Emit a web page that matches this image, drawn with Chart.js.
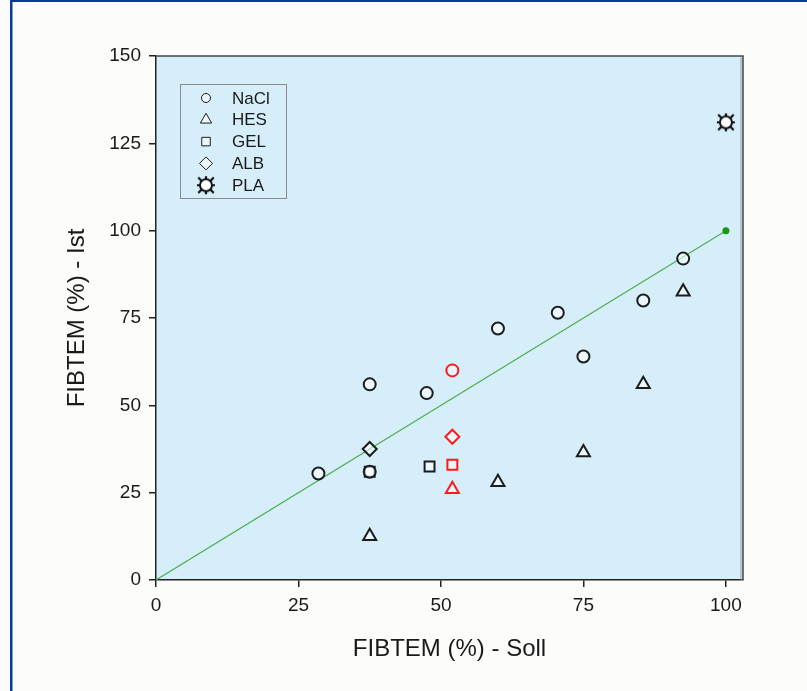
<!DOCTYPE html>
<html><head><meta charset="utf-8">
<script src="https://cdn.jsdelivr.net/npm/chart.js@4.4.0/dist/chart.umd.min.js"></script>
<style>html,body{margin:0;padding:0;background:#fcfcfa;overflow:hidden}canvas{display:block}</style>
</head><body>
<canvas id="c" width="807" height="691"></canvas>
<script>
// ---- data ----
const naclSoll = [28.5, 37.5, 37.5, 47.5, 60, 70.5, 75, 85.5, 92.5];
const naclIst  = [30.5, 31, 56, 53.5, 72, 76.5, 64, 80, 92];
const hesSoll  = [37.5, 60, 75, 85.5, 92.5];
const hesIst   = [12.5, 28, 36.5, 56, 82.5];
const gelSoll  = [37.5, 48];
const gelIst   = [31, 32.5];
const albSoll  = [37.5];
const albIst   = [37.5];
const plaSoll  = [100];
const plaIst   = [131];
// highlighted (red) points
const naclRedSoll = [52]; const naclRedIst = [60];
const hesRedSoll  = [52]; const hesRedIst  = [26];
const gelRedSoll  = [52]; const gelRedIst  = [33];
const albRedSoll  = [52]; const albRedIst  = [41];
// identity line
const refSoll = [0, 100];
const refIst  = [0, 100];
const xTicks = [0, 25, 50, 75, 100];
const yTicks = [0, 25, 50, 75, 100, 125, 150];
const legendLabels = ['NaCl', 'HES', 'GEL', 'ALB', 'PLA'];

const pts = (xs, ys) => xs.map((x, i) => ({x, y: ys[i]}));

// PLA symbol
function plaSymbol(){
  const c = document.createElement('canvas'); c.width = 26; c.height = 24;
  const g = c.getContext('2d');
  const cx = 13, cy = 12;
  g.strokeStyle = '#111'; g.lineWidth = 2.2;
  const rays = [[45,11],[135,11],[225,11],[315,11],[0,9],[90,9],[180,9],[270,9]];
  g.beginPath();
  rays.forEach(([a, r]) => {
    const t = a*Math.PI/180;
    g.moveTo(cx + Math.cos(t)*4, cy + Math.sin(t)*4);
    g.lineTo(cx + Math.cos(t)*r, cy + Math.sin(t)*r);
  });
  g.stroke();
  g.beginPath(); g.arc(cx, cy, 6, 0, Math.PI*2);
  g.fillStyle = '#ffffff'; g.fill(); g.lineWidth = 2; g.stroke();
  return c;
}
const plaImg = plaSymbol();

const BLACK = '#1c1c1c', RED = '#ff1a1a', FILL = 'rgba(255,255,255,0.55)';
const mk = (label, data, style, color, r, bw) => ({
  type: 'scatter', label, data, pointStyle: style,
  pointRadius: r, pointHoverRadius: r, borderColor: color, backgroundColor: FILL,
  pointBorderWidth: bw, borderWidth: bw, showLine: false
});

const datasets = [
  mk('PLA', pts(plaSoll, plaIst), plaImg, BLACK, 12, 1.5),
  mk('NaCl', pts(naclSoll, naclIst), 'circle', BLACK, 6, 2),
  mk('HES', pts(hesSoll, hesIst), 'triangle', BLACK, 7.5, 2),
  mk('GEL', pts(gelSoll, gelIst), 'rect', BLACK, 7, 2),
  mk('ALB', pts(albSoll, albIst), 'rectRot', BLACK, 7, 2),
  mk('NaCl*', pts(naclRedSoll, naclRedIst), 'circle', RED, 6, 2),
  mk('HES*', pts(hesRedSoll, hesRedIst), 'triangle', RED, 7.5, 2),
  mk('GEL*', pts(gelRedSoll, gelRedIst), 'rect', RED, 7, 2),
  mk('ALB*', pts(albRedSoll, albRedIst), 'rectRot', RED, 7, 2),
  { type: 'line', label: 'Identität', data: pts(refSoll, refIst),
    borderColor: '#4caf50', borderWidth: 1.2, backgroundColor: '#1a9a1a',
    pointRadius: [0, 3.5], pointBorderWidth: 0, pointBackgroundColor: '#169a16', fill: false }
];

const PLOT_BG = '#d6eefa';
const bgPlugin = {
  id: 'bg',
  beforeDraw(chart){
    const {ctx, chartArea: a} = chart;
    ctx.save();
    ctx.fillStyle = '#fcfcfa'; ctx.fillRect(0, 0, chart.width, chart.height);
    ctx.fillStyle = '#0a3aa0';
    ctx.fillRect(10, 0, 2.5, chart.height);
    ctx.fillRect(10, 0, chart.width - 10, 2);
    ctx.fillStyle = PLOT_BG; ctx.fillRect(a.left, a.top, a.right - a.left, a.bottom - a.top);
    ctx.restore();
  },
  afterDraw(chart){
    const {ctx, chartArea: a} = chart;
    ctx.save();
    // frame top/right
    ctx.strokeStyle = '#444'; ctx.lineWidth = 1.5;
    ctx.beginPath(); ctx.moveTo(a.left, a.top); ctx.lineTo(a.right, a.top); ctx.lineTo(a.right, a.bottom); ctx.stroke();
    ctx.strokeStyle = '#999'; ctx.lineWidth = 1;
    ctx.beginPath(); ctx.moveTo(a.right - 2, a.top + 1.5); ctx.lineTo(a.right - 2, a.bottom); ctx.stroke();
    // legend
    const lx = 180, ly = 84, lw = 106, lh = 114;
    ctx.strokeStyle = '#8a8a8a'; ctx.lineWidth = 1;
    ctx.strokeRect(lx + 0.5, ly + 0.5, lw, lh);
    const styles = ['circle', 'triangle', 'rect', 'rectRot', plaImg];
    const radii = [4.5, 6.5, 6, 6.5, 12];
    ctx.font = '17px "Liberation Sans", Arial, sans-serif';
    ctx.textBaseline = 'middle'; ctx.fillStyle = '#1a1a1a';
    legendLabels.forEach((t, i) => {
      const y = ly + 14 + i * 21.8;
      ctx.strokeStyle = BLACK; ctx.fillStyle = FILL;
      Chart.helpers.drawPoint(ctx, {pointStyle: styles[i], radius: radii[i], borderWidth: 1.6, rotation: 0}, 206, y);
      ctx.fillStyle = '#1a1a1a';
      ctx.fillText(t, 232, y + 1);
    });
    ctx.restore();
  }
};

const tickFont = {family: '"Liberation Sans", Arial, sans-serif', size: 19};
const titleFont = {family: '"Liberation Sans", Arial, sans-serif', size: 24};

new Chart(document.getElementById('c'), {
  data: { datasets },
  plugins: [bgPlugin],
  options: {
    responsive: false, animation: false, devicePixelRatio: 1,
    layout: { padding: { left: 0, top: 56, right: 64, bottom: 0 } },
    plugins: { legend: { display: false }, tooltip: { enabled: false } },
    scales: {
      x: {
        type: 'linear', min: 0, max: 103,
        afterBuildTicks: s => { s.ticks = xTicks.map(v => ({value: v})); },
        afterFit: s => { s.height = 111; },
        ticks: { font: tickFont, color: '#1a1a1a', padding: 7, maxRotation: 0 },
        grid: { drawOnChartArea: false, drawTicks: true, tickLength: 7, color: '#222', lineWidth: 1.5 },
        border: { display: true, color: '#222', width: 1.5 },
        title: { display: true, text: 'FIBTEM (%) - Soll', font: titleFont, color: '#1a1a1a', padding: { bottom: 27 } }
      },
      y: {
        type: 'linear', min: 0, max: 150,
        afterBuildTicks: s => { s.ticks = yTicks.map(v => ({value: v})); },
        afterFit: s => { s.width = 156; },
        ticks: { font: tickFont, color: '#1a1a1a', padding: 8 },
        grid: { drawOnChartArea: false, drawTicks: true, tickLength: 7, color: '#222', lineWidth: 1.5 },
        border: { display: true, color: '#222', width: 1.5 },
        title: { display: true, text: 'FIBTEM (%) - Ist', font: titleFont, color: '#1a1a1a', padding: { top: 63 } }
      }
    }
  }
});
</script>
</body></html>
